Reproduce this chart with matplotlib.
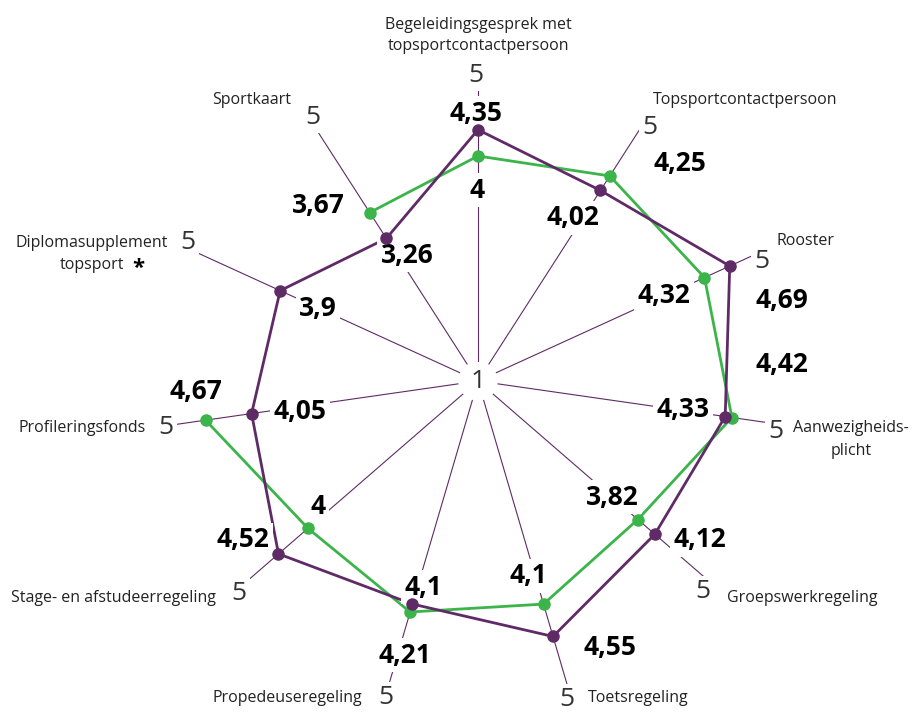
import numpy as np
import matplotlib
matplotlib.use("Agg")
import matplotlib.pyplot as plt
import matplotlib.font_manager as fm

# ---------------- data ----------------
categories = [
    "Begeleidingsgesprek met\ntopsportcontactpersoon",
    "Topsportcontactpersoon",
    "Rooster",
    "Aanwezigheids-\nplicht",
    "Groepswerkregeling",
    "Toetsregeling",
    "Propedeuseregeling",
    "Stage- en afstudeerregeling",
    "Profileringsfonds",
    "Diplomasupplement\ntopsport",
    "Sportkaart",
]
purple_values = [4.35, 4.02, 4.69, 4.33, 4.12, 4.55, 4.10, 4.52, 4.05, 3.90, 3.26]
green_values = [4.00, 4.25, 4.32, 4.42, 3.82, 4.10, 4.21, 4.00, 4.67, np.nan, 3.67]
scale_min, scale_max = 1, 5

# ---------------- style / layout ----------------
W, H = 914, 712
PURPLE = "#5f2b66"
GREEN = "#3bb44a"

names = {f.name for f in fm.fontManager.ttflist}
if "Liberation Sans Narrow" in names:
    FONT = "Liberation Sans Narrow"
    CAT_SIZE, VAL_SIZE, NUM_SIZE = 13, 20, 21
else:
    FONT = "Open Sans"
    CAT_SIZE, VAL_SIZE, NUM_SIZE = 11.5, 19, 19
plt.rcParams["font.family"] = [FONT, "DejaVu Sans"]

# pixel positions (layout): x, y of first line, alignment, line spacing
cat_pos = [(478, 25, "center", 21), (745, 100, "center", 0), (805, 241, "center", 0),
           (851, 428, "center", 23), (727, 598, "left", 0), (588, 698, "left", 0),
           (362, 698, "right", 0), (216, 598, "right", 0), (146, 428, "right", 0),
           (92, 243, "center", 22), (252, 100, "center", 0)]
five_r = [5.08, 5.08, 5.11, 5.03, 5.11, 5.41, 5.40, 5.27, 5.20, 5.28, 5.15]
five_pos = [(476, 75), (650, 128), (762, 262), (776, 432), (703, 592), (567, 700),
            (386, 698), (239, 594), (166, 427), (188, 243), (313, 117)]
purple_lbl = [(476, 113), (573, 218), (782, 301), (683, 409), (700, 540), (610, 647),
              (423, 587), (243, 540), (300, 412), (318, 308), (407, 255)]
green_lbl = [(477, 190), (680, 163), (664, 296), (782, 365), (612, 497), (528, 576),
             (405, 655), (318, 507), (196, 391), None, (318, 205)]

fig = plt.figure(figsize=(W / 100, H / 100), dpi=100)
cx, cy, R = 478, 381, 300
ax = fig.add_axes([(cx - R) / W, (H - cy - R) / H, 2 * R / W, 2 * R / H], projection="polar")
ax.set_theta_zero_location("N")
ax.set_theta_direction(-1)
ax.axis("off")

n = len(categories)
theta = np.linspace(0, 2 * np.pi, n, endpoint=False)

# axis spokes
for t, r5 in zip(theta, five_r):
    ax.plot([t, t], [1.27, r5], color=PURPLE, lw=0.8, zorder=1, clip_on=False)

# series lines (labels drawn over them) and markers (on top of everything)
tc = np.append(theta, theta[0])
gc = np.append(green_values, green_values[0])
pc = np.append(purple_values, purple_values[0])
ax.plot(tc, gc, color=GREEN, lw=2.0, zorder=3, clip_on=False)
ax.plot(tc, pc, color=PURPLE, lw=2.0, zorder=4, clip_on=False)
ax.plot(theta, green_values, ls="none", marker="o", ms=8, color=GREEN, zorder=8, clip_on=False)
ax.plot(theta, purple_values, ls="none", marker="o", ms=8, color=PURPLE, zorder=9, clip_on=False)
ax.set_ylim(scale_min, scale_max)

bbox = dict(boxstyle="square,pad=0.12", fc="white", ec="none")
tf = fig.transFigure


def ftext(x, y, s, **kw):
    return ax.text(x / W, 1 - y / H, s, transform=tf, clip_on=False, **kw)


# scale labels
for (x, y) in five_pos:
    ftext(x, y, str(scale_max), ha="center", va="center", fontsize=NUM_SIZE,
          color="#333333", bbox=bbox, zorder=5)
ftext(cx, cy, str(scale_min), ha="center", va="center", fontsize=NUM_SIZE,
      color="#333333", bbox=bbox, zorder=5)


def fmt(v):
    return f"{v:g}".replace(".", ",")


for v, p in zip(purple_values, purple_lbl):
    ftext(p[0], p[1], fmt(v), ha="center", va="center", fontsize=VAL_SIZE,
          fontweight="bold", color="black", bbox=bbox, zorder=6)
for v, p in zip(green_values, green_lbl):
    if p is None or np.isnan(v):
        continue
    ftext(p[0], p[1], fmt(v), ha="center", va="center", fontsize=VAL_SIZE,
          fontweight="bold", color="black", bbox=bbox, zorder=6)

# category labels (one text per line)
for c, (x, y, ha, dy) in zip(categories, cat_pos):
    for i, line in enumerate(c.split("\n")):
        ftext(x, y + i * dy, line, ha=ha, va="center", fontsize=CAT_SIZE,
              color="#222222", zorder=6)
ftext(138, 268, "*", ha="center", va="center", fontsize=16, fontweight="bold",
      color="black", zorder=6)

fig.savefig("out.png", dpi=100, facecolor="white")
